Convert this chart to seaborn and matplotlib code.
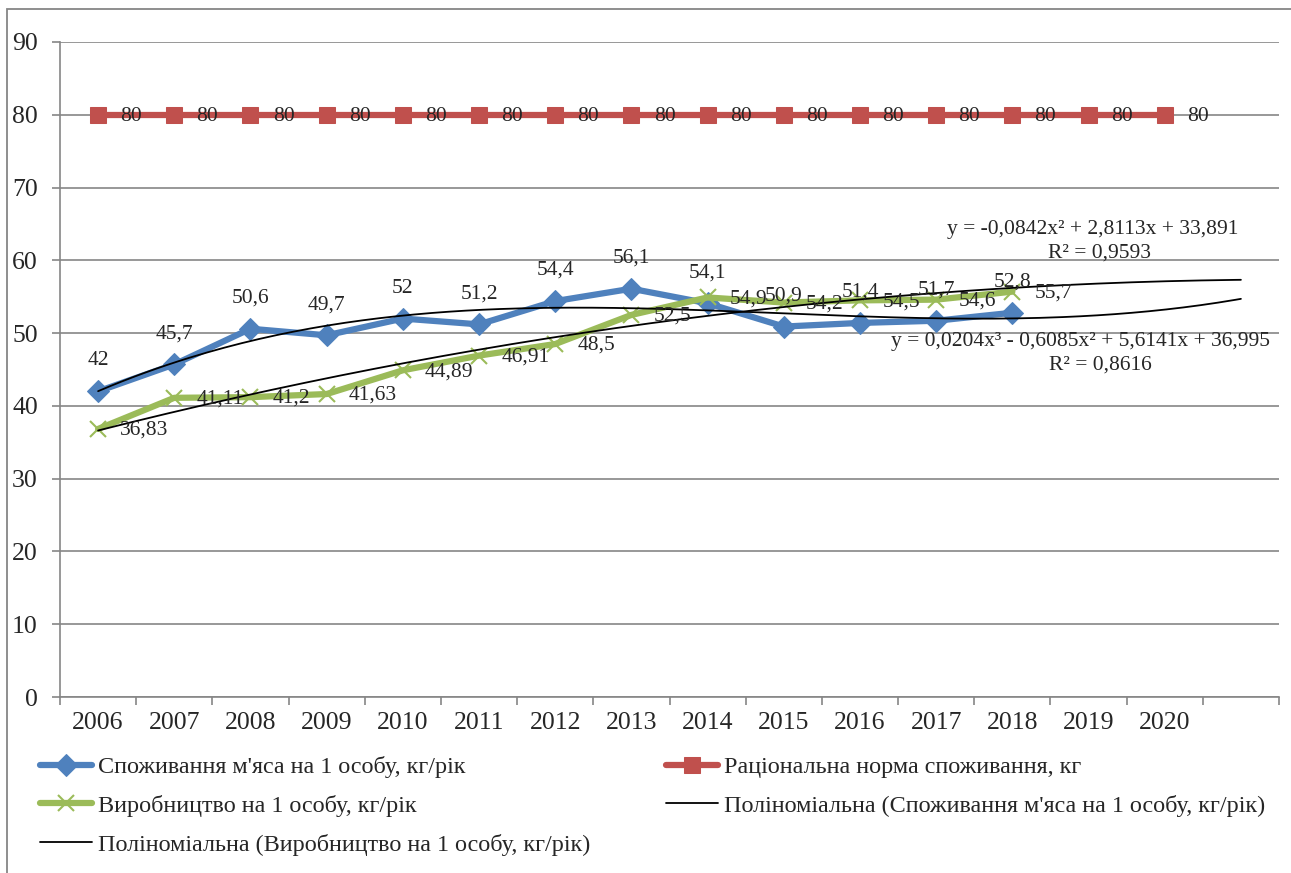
import numpy as np
import pandas as pd
import seaborn as sns
from matplotlib import pyplot as plt
from matplotlib.patches import Rectangle

years = list(range(2006, 2021))
consumption = [42, 45.7, 50.6, 49.7, 52, 51.2, 54.4, 56.1, 54.1, 50.9, 51.4, 51.7, 52.8]
norm = [80] * 15
production = [36.83, 41.11, 41.2, 41.63, 44.89, 46.91, 48.5, 52.5, 54.9, 54.2, 54.5, 54.6, 55.7]

lab_cons = "Споживання м'яса на 1 особу, кг/рік"
lab_norm = "Раціональна норма споживання, кг"
lab_prod = "Виробництво на 1 особу, кг/рік"
lab_poly_cons = "Поліноміальна (Споживання м'яса на 1 особу, кг/рік)"
lab_poly_prod = "Поліноміальна (Виробництво на 1 особу, кг/рік)"
eq_prod = ["y = -0,0842x² + 2,8113x + 33,891", "R² = 0,9593"]
eq_cons = ["y = 0,0204x³ - 0,6085x² + 5,6141x + 36,995", "R² = 0,8616"]

df_cons = pd.DataFrame({'year': years[:len(consumption)], 'value': consumption})
df_norm = pd.DataFrame({'year': years, 'value': norm})
df_prod = pd.DataFrame({'year': years[:len(production)], 'value': production})

sns.set_style("white")
plt.rcParams['font.family'] = ['Liberation Serif', 'DejaVu Serif']

fig = plt.figure(figsize=(12.91, 8.73), dpi=100)
ax = fig.add_axes([60/1291, 1-697/873, (1279-60)/1291, (697-42)/873])

blue, red, green = '#4F81BD', '#C0504D', '#9BBB59'

sns.lineplot(data=df_cons, x='year', y='value', ax=ax, color=blue, lw=4.5,
             marker='D', markersize=11, markeredgecolor=blue, label=lab_cons)
sns.lineplot(data=df_norm, x='year', y='value', ax=ax, color=red, lw=4.5,
             marker='s', markersize=11, markeredgecolor=red, label=lab_norm)
sns.lineplot(data=df_prod, x='year', y='value', ax=ax, color=green, lw=4.5,
             marker='x', markersize=11, markeredgewidth=1.5, markeredgecolor=green,
             label=lab_prod)

# polynomial trendlines (Excel style, x = 1..n, forecast forward)
t_c = np.arange(1, len(consumption) + 1)
t_p = np.arange(1, len(production) + 1)
pc = np.polyfit(t_c, consumption, 3)
pp = np.polyfit(t_p, production, 2)
tt = np.linspace(1, 16, 200)
sns.lineplot(x=tt + 2005, y=np.polyval(pc, tt), ax=ax, color='black', lw=1.3,
             label=lab_poly_cons)
sns.lineplot(x=tt + 2005, y=np.polyval(pp, tt), ax=ax, color='black', lw=1.3,
             label=lab_poly_prod)

def fmt(v):
    return f"{v:g}".replace('.', ',')

fs_lab = 15.5
for x, v in zip(df_cons['year'], consumption):
    ax.annotate(fmt(v), (x, v), xytext=(0, 22), textcoords='offset points',
                ha='center', va='center', fontsize=fs_lab)
for x, v in zip(df_norm['year'], norm):
    ax.annotate(fmt(v), (x, v), xytext=(16, -1.5), textcoords='offset points',
                ha='left', va='center', fontsize=fs_lab)
for x, v in zip(df_prod['year'], production):
    ax.annotate(fmt(v), (x, v), xytext=(16, -1), textcoords='offset points',
                ha='left', va='center', fontsize=fs_lab)

ax.text(2019.06, 64.3, eq_prod[0], ha='center', va='center', fontsize=fs_lab)
ax.text(2019.15, 61.0, eq_prod[1], ha='center', va='center', fontsize=fs_lab)
ax.text(2018.9, 48.8, eq_cons[0], ha='center', va='center', fontsize=fs_lab)
ax.text(2019.15, 45.6, eq_cons[1], ha='center', va='center', fontsize=fs_lab)

ax.set_xlim(2005.5, 2021.5)
ax.set_ylim(0, 90)
ax.set_yticks(range(0, 91, 10))
ax.set_xticks(years)
ax.set_xticks(np.arange(2005.5, 2022, 1), minor=True)
ax.tick_params(axis='x', which='major', length=0, pad=11, labelsize=18.5)
ax.tick_params(axis='x', which='minor', bottom=True, length=6, width=1.2,
               color='#868686', direction='out')
ax.tick_params(axis='y', left=True, length=6, width=1.2, color='#868686',
               direction='out', pad=10, labelsize=18.5)
ax.set_xlabel('')
ax.set_ylabel('')
ax.grid(axis='y', color='#868686', lw=1.2)
ax.set_axisbelow(True)
for s in ['top', 'right']:
    ax.spines[s].set_visible(False)
for s in ['left', 'bottom']:
    ax.spines[s].set_color('#868686')
    ax.spines[s].set_linewidth(1.2)

ax.get_legend().remove()
h, l = ax.get_legend_handles_labels()
order = [0, 2, 4, 1, 3]
fig.legend([h[i] for i in order], [l[i] for i in order], loc='upper left',
           bbox_to_anchor=(40/1291, 1-756/873), ncol=2, frameon=False,
           fontsize=17.4, handlelength=2.15, handletextpad=0.25, columnspacing=3.12,
           labelspacing=0.7, borderpad=0, borderaxespad=0)

fig.patches.append(Rectangle((7/1291, -0.02), 1.1, 1.02 - 9/873,
                             transform=fig.transFigure, fill=False,
                             edgecolor='#868686', lw=1.3))

plt.savefig('out.png', dpi=100)
